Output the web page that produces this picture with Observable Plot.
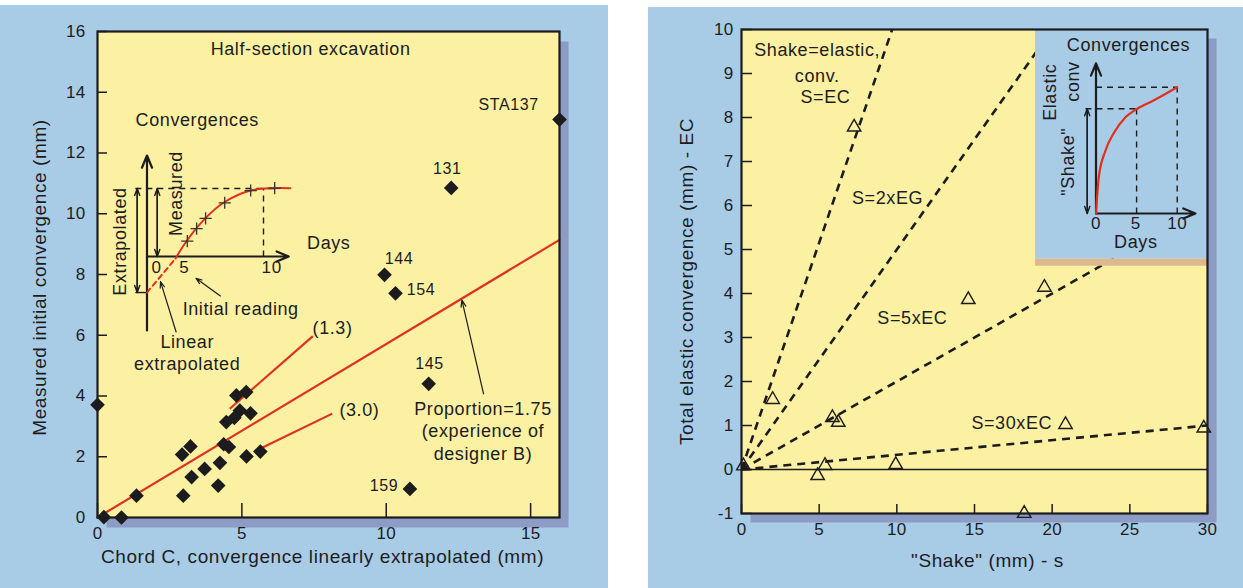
<!DOCTYPE html>
<html><head><meta charset="utf-8">
<script src="https://cdn.jsdelivr.net/npm/d3@7"></script>
<script src="https://cdn.jsdelivr.net/npm/@observablehq/plot@0.6"></script>
<style>
html,body{margin:0;padding:0;background:#fff;}
#wrap{position:relative;width:1243px;height:588px;overflow:hidden;background:#fff;}
.panel{position:absolute;background:#a9cce6;}
#wrap svg{position:absolute;}
#wrap svg text{letter-spacing:0.6px;}
#wrap svg g[aria-label$="tick label"] text{letter-spacing:0.3px;}
</style></head><body><div id="wrap">
<div class="panel" style="left:0;top:5px;width:608px;height:583px"></div>
<div class="panel" style="left:648px;top:7px;width:595px;height:581px"></div>
</div>
<script>
// ---------------- LEFT PANEL DATA ----------------
const leftXTicks = [0, 5, 10, 15];
const leftYTicks = [0, 2, 4, 6, 8, 10, 12, 14, 16];
// chord C (extrapolated) vs measured initial convergence (mm)
const chordC   = [4.81, 5.15, 4.46, 4.74, 4.93, 5.30, 4.37, 4.55, 5.16, 5.64, 3.22, 2.93, 3.26, 3.71, 4.24, 4.18, 2.97, 1.35, 0.22, 0.83, 0.00, 16.0, 12.25, 9.94, 10.32, 11.47, 10.82];
const measured = [4.02, 4.13, 3.14, 3.28, 3.52, 3.43, 2.41, 2.32, 2.01, 2.17, 2.34, 2.07, 1.33, 1.60, 1.80, 1.05, 0.72, 0.72, 0.01, 0.00, 3.71, 13.1, 10.85, 7.99, 7.38, 4.40, 0.94];
const stationNames = ["STA137", "131", "144", "154", "145", "159"];
const stationLabelX = [14.24, 12.11, 10.44, 11.2, 11.5, 9.92];
const stationLabelY = [13.6, 11.49, 8.53, 7.49, 5.07, 1.03];
const proportionX = [0, 16];
const proportionY = [0, 9.14];
const ratioNames = ["(1.3)", "(3.0)"];
const ratioSegX1 = [4.58, 5.70], ratioSegY1 = [3.58, 2.30];
const ratioSegX2 = [7.46, 8.13], ratioSegY2 = [5.97, 3.42];
const ratioLabelX = [8.14, 9.07], ratioLabelY = [6.22, 3.52];
const noteText = ["Half-section excavation", "Proportion=1.75", "(experience of", "designer B)"];
const noteX = [7.38, 13.35, 13.35, 13.35];
const noteY = [15.41, 3.57, 2.83, 2.08];
const pointerFrom = [13.37, 4.07], pointerTo = [12.62, 7.16];

// left inset (schematic, days vs convergence units)
const liAxisX1 = [0, 0], liAxisY1 = [-10.9, 0], liAxisX2 = [0, 12.17], liAxisY2 = [14.85, 0];
const liGuideX1 = [-1, 10], liGuideY1 = [10, 0], liGuideX2 = [10.9, 10], liGuideY2 = [10, 10];
const liDblX = [-0.84, 0.88], liDblTop = [10, 10], liDblBottom = [-5.3, 0];
const liBaseTick = {x1: -1, x2: 0, y: -5.3};
const liExtrapDays = [0, 2.45], liExtrapConv = [-5.3, -0.3];
const liCurveDays = [2.45, 3.43, 5.0, 6.56, 8.88, 10.86, 12.3];
const liCurveConv = [-0.3, 2.35, 5.6, 7.9, 9.7, 10.05, 10.05];
const liReadDays = [3.46, 4.26, 5.03, 6.67, 8.9, 10.96];
const liReadConv = [2.25, 4.1, 5.6, 7.9, 9.7, 10.05];
const liText = ["Convergences", "Days", "0", "5", "10", "Initial reading", "Linear", "extrapolated"];
const liTextX = [4.31, 15.6, 0.82, 3.2, 10.7, 8.04, 3.45, 3.45];
const liTextY = [20.0, 1.9, -1.57, -1.57, -1.57, -7.8, -12.65, -15.9];
const liRotText = ["Measured", "Extrapolated"];
const liRotX = [2.53, -2.32], liRotY = [9.26, 2.2];
const liPointX1 = [6.3, 2.5], liPointY1 = [-5.8, -11.1], liPointX2 = [4.2, 1.16], liPointY2 = [-3.2, -3.7];

// ---------------- RIGHT PANEL DATA ----------------
const rightXTicks = [0, 5, 10, 15, 20, 25, 30];
const rightYTicks = [-1, 0, 1, 2, 3, 4, 5, 6, 7, 8, 9, 10];
const shake = [2.01, 7.25, 5.85, 6.23, 4.90, 5.38, 9.93, 14.6, 19.5, 20.86, 18.2, 29.76, 0.12];
const elasticConv = [1.59, 7.78, 1.18, 1.07, -0.14, 0.09, 0.11, 3.86, 4.14, 1.02, -1.0, 0.94, 0.08];
const refNames = ["S=EC", "S=2xEG", "S=5xEC", "S=30xEC"];
const refEndX = [9.7, 20, 25, 30];
const refEndY = [10, 10, 5, 1];
const rNoteText = ["Shake=elastic,", "conv.", "S=EC", "S=2xEG", "S=5xEC", "S=30xEC"];
const rNoteX = [4.87, 4.87, 5.4, 9.4, 11.0, 17.4];
const rNoteY = [9.53, 8.93, 8.47, 6.17, 3.43, 1.06];
const insetBox = {x1: 18.93, x2: 30, y1: 4.78, y2: 10};
const insetStripe = {x1: 18.93, x2: 30, y1: 4.62, y2: 4.78};

// right inset (schematic)
const riAxisX2 = [0, 12.25], riAxisY2 = [11.88, 0];
const riCurveDays = [0, 0.34, 1.17, 2.16, 3.63, 4.86, 7.08, 10];
const riCurveConv = [0, 2.87, 4.99, 6.33, 7.62, 8.21, 8.95, 10];
const riGuideX1 = [0, -1.3, 5, 10], riGuideY1 = [10, 8.29, 0, 0];
const riGuideX2 = [10, 5, 5, 10], riGuideY2 = [10, 8.29, 8.29, 10];
const riShakeX = -1.08, riShakeTop = 8.29, riShakeBottom = 0;
const riText = ["Convergences", "0", "5", "10", "Days"];
const riTextX = [4.0, 0, 4.9, 10.0, 4.9];
const riTextY = [13.3, -0.8, -0.8, -0.8, -2.3];
const riRotText = ["Elastic", "conv", "\"Shake\""];
const riRotX = [-5.6, -2.8, -3.47], riRotY = [9.6, 10.45, 4.1];

// ---------------- STYLE ----------------
const INK = "#1c1c1e", RED = "#e1301d", YELLOW = "#fcf1a2", SHADOW = "#8d9cc5", BLUE = "#a9cce6", STRIPE = "#dcb88e";
const FONT = "'Liberation Sans', Arial, Helvetica, sans-serif";
const baseStyle = {fontFamily: FONT, fontSize: "16px", color: INK, background: "transparent", overflow: "visible"};

// ---------------- LEFT MAIN ----------------
const leftPts = chordC.map((x, i) => ({x, y: measured[i]}));
const stationLabels = stationNames.map((t, i) => ({t, x: stationLabelX[i], y: stationLabelY[i]}));
const propLine = proportionX.map((x, i) => ({x, y: proportionY[i]}));
const ratioSegs = ratioNames.map((t, i) => ({t, x1: ratioSegX1[i], y1: ratioSegY1[i], x2: ratioSegX2[i], y2: ratioSegY2[i], lx: ratioLabelX[i], ly: ratioLabelY[i]}));
const notes = noteText.map((t, i) => ({t, x: noteX[i], y: noteY[i]}));

const left = Plot.plot({
  width: 608, height: 588,
  marginLeft: 97, marginRight: 49, marginTop: 31, marginBottom: 71,
  x: {domain: [0, 16], axis: null}, y: {domain: [0, 16], axis: null},
  style: baseStyle,
  marks: [
    Plot.frame({fill: SHADOW, dx: 9, dy: 10}),
    Plot.frame({fill: YELLOW}),
    Plot.line(propLine, {x: "x", y: "y", stroke: RED, strokeWidth: 2.2}),
    Plot.link(ratioSegs, {x1: "x1", y1: "y1", x2: "x2", y2: "y2", stroke: RED, strokeWidth: 2.2}),
    Plot.arrow([{x1: pointerFrom[0], y1: pointerFrom[1], x2: pointerTo[0], y2: pointerTo[1]}], {x1: "x1", y1: "y1", x2: "x2", y2: "y2", stroke: INK, strokeWidth: 1.2, headLength: 9, headAngle: 40}),
    Plot.dot(leftPts, {x: "x", y: "y", symbol: "diamond2", r: 6.6, fill: INK}),
    Plot.text(stationLabels, {x: "x", y: "y", text: "t", fontSize: 16, fill: INK}),
    Plot.text(ratioSegs, {x: "lx", y: "ly", text: "t", fontSize: 18, fill: INK}),
    Plot.text(notes, {x: "x", y: "y", text: "t", fontSize: 18, fill: INK}),
    Plot.axisY(leftYTicks, {tickSize: 0, tickPadding: 12, fontSize: 17, label: null, fill: INK}),
    Plot.axisY(leftYTicks, {tickSize: 10, dx: 10, tickFormat: () => "", label: null, stroke: INK, strokeWidth: 1.5}),
    Plot.axisX(leftXTicks, {tickSize: 0, tickPadding: 9, fontSize: 17, label: null, fill: INK}),
    Plot.axisX(leftXTicks, {tickSize: 14, dy: -14, tickFormat: () => "", label: null, stroke: INK, strokeWidth: 1.5}),
    Plot.text(["Chord C, convergence linearly extrapolated (mm)"], {frameAnchor: "bottom", textAnchor: "middle", dy: 45, dx: -6, fontSize: 19, fill: INK}),
    Plot.text(["Measured initial convergence (mm)"], {frameAnchor: "left", textAnchor: "middle", dx: -58, dy: 3, rotate: -90, fontSize: 19, fill: INK}),
    Plot.frame({stroke: INK, strokeWidth: 2.2})
  ]
});
left.style.left = "0px"; left.style.top = "0px";
document.getElementById("wrap").appendChild(left);

// ---------------- LEFT INSET ----------------
const liAxes = liAxisX1.map((x1, i) => ({x1, y1: liAxisY1[i], x2: liAxisX2[i], y2: liAxisY2[i]}));
const liGuides = liGuideX1.map((x1, i) => ({x1, y1: liGuideY1[i], x2: liGuideX2[i], y2: liGuideY2[i]}));
const liDbl = liDblX.map((x, i) => ({x, top: liDblTop[i], bottom: liDblBottom[i]}));
const liExtrap = liExtrapDays.map((d, i) => ({d, c: liExtrapConv[i]}));
const liCurve = liCurveDays.map((d, i) => ({d, c: liCurveConv[i]}));
const liReads = liReadDays.map((d, i) => ({d, c: liReadConv[i]}));
const liTexts = liText.map((t, i) => ({t, x: liTextX[i], y: liTextY[i], small: /^\d+$/.test(t)}));
const liRot = liRotText.map((t, i) => ({t, x: liRotX[i], y: liRotY[i]}));
const liPointers = liPointX1.map((x1, i) => ({x1, y1: liPointY1[i], x2: liPointX2[i], y2: liPointY2[i]}));

const leftInset = Plot.plot({
  width: 270, height: 280, margin: 0,
  x: {domain: [0, 10], range: [46.5, 163], axis: null},
  y: {domain: [0, 10], range: [156, 88], axis: null},
  style: baseStyle,
  marks: [
    Plot.link(liGuides, {x1: "x1", y1: "y1", x2: "x2", y2: "y2", stroke: INK, strokeWidth: 1.4, strokeDasharray: "6,5"}),
    Plot.link([liBaseTick], {x1: "x1", x2: "x2", y1: "y", y2: "y", stroke: INK, strokeWidth: 1.4}),
    Plot.arrow(liAxes, {x1: "x1", y1: "y1", x2: "x2", y2: "y2", stroke: INK, strokeWidth: 2.2, headLength: 9, headAngle: 45}),
    Plot.arrow(liDbl, {x1: "x", y1: "bottom", x2: "x", y2: "top", stroke: INK, strokeWidth: 1.4, headLength: 8, headAngle: 40}),
    Plot.arrow(liDbl, {x1: "x", y1: "top", x2: "x", y2: "bottom", stroke: INK, strokeWidth: 1.4, headLength: 8, headAngle: 40}),
    Plot.line(liExtrap, {x: "d", y: "c", stroke: RED, strokeWidth: 2, strokeDasharray: "5,4"}),
    Plot.line(liCurve, {x: "d", y: "c", stroke: RED, strokeWidth: 2, curve: "catmull-rom"}),
    Plot.dot(liReads, {x: "d", y: "c", symbol: "plus", r: 4, stroke: "#333", strokeWidth: 1.3}),
    Plot.arrow(liPointers, {x1: "x1", y1: "y1", x2: "x2", y2: "y2", stroke: INK, strokeWidth: 1.2, headLength: 8, headAngle: 40}),
    Plot.text(liTexts, {x: "x", y: "y", text: "t", fontSize: d => d.small ? 17 : 18, fill: INK}),
    Plot.text(liRot, {x: "x", y: "y", text: "t", rotate: -90, fontSize: 18, fill: INK})
  ]
});
leftInset.style.left = "100px"; leftInset.style.top = "100px";
document.getElementById("wrap").appendChild(leftInset);

// ---------------- RIGHT MAIN ----------------
const rightPts = shake.map((x, i) => ({x, y: elasticConv[i]}));
const refLines = refNames.map((t, i) => ({t, x1: 0, y1: 0, x2: refEndX[i], y2: refEndY[i]}));
const rNotes = rNoteText.map((t, i) => ({t, x: rNoteX[i], y: rNoteY[i]}));

const right = Plot.plot({
  width: 595, height: 588,
  marginLeft: 93, marginRight: 36, marginTop: 29, marginBottom: 75,
  x: {domain: [0, 30], axis: null}, y: {domain: [-1, 10], axis: null},
  style: baseStyle,
  marks: [
    Plot.frame({fill: SHADOW, dx: 9, dy: 9}),
    Plot.frame({fill: YELLOW}),
    Plot.ruleY([0], {stroke: INK, strokeWidth: 1.3}),
    Plot.link(refLines, {x1: "x1", y1: "y1", x2: "x2", y2: "y2", stroke: INK, strokeWidth: 2.6, strokeDasharray: "8,6", clip: true}),
    Plot.dot(rightPts, {x: "x", y: "y", symbol: "triangle", r: 5, stroke: INK, strokeWidth: 1.4, fill: "none"}),
    Plot.rect([insetBox], {x1: "x1", x2: "x2", y1: "y1", y2: "y2", fill: BLUE}),
    Plot.rect([insetStripe], {x1: "x1", x2: "x2", y1: "y1", y2: "y2", fill: STRIPE}),
    Plot.text(rNotes, {x: "x", y: "y", text: "t", fontSize: 18, fill: INK}),
    Plot.axisY(rightYTicks, {tickSize: 0, tickPadding: 8, fontSize: 17, label: null, fill: INK, tickFormat: d => String(d)}),
    Plot.axisY(rightYTicks, {tickSize: 11, dx: 11, tickFormat: () => "", label: null, stroke: INK, strokeWidth: 1.5}),
    Plot.axisX(rightXTicks, {tickSize: 0, tickPadding: 9, fontSize: 17, label: null, fill: INK}),
    Plot.axisX(rightXTicks, {tickSize: 9, dy: -9, tickFormat: () => "", label: null, stroke: INK, strokeWidth: 1.5}),
    Plot.text(["\"Shake\" (mm) - s"], {frameAnchor: "bottom", textAnchor: "middle", dy: 53, dx: 13, fontSize: 19, fill: INK}),
    Plot.text(["Total elastic convergence (mm) - EC"], {frameAnchor: "left", textAnchor: "middle", dx: -55, dy: 10, rotate: -90, fontSize: 19, fill: INK}),
    Plot.frame({stroke: INK, strokeWidth: 2.2})
  ]
});
right.style.left = "648px"; right.style.top = "0px";
document.getElementById("wrap").appendChild(right);

// ---------------- RIGHT INSET ----------------
const riAxes = riAxisX2.map((x2, i) => ({x1: 0, y1: 0, x2, y2: riAxisY2[i]}));
const riCurve = riCurveDays.map((d, i) => ({d, c: riCurveConv[i]}));
const riGuides = riGuideX1.map((x1, i) => ({x1, y1: riGuideY1[i], x2: riGuideX2[i], y2: riGuideY2[i]}));
const riShake = [{x: riShakeX, top: riShakeTop, bottom: riShakeBottom}];
const riTexts = riText.map((t, i) => ({t, x: riTextX[i], y: riTextY[i], small: /^\d+$/.test(t)}));
const riRot = riRotText.map((t, i) => ({t, x: riRotX[i], y: riRotY[i]}));

const rightInset = Plot.plot({
  width: 180, height: 242, margin: 0,
  x: {domain: [0, 10], range: [65.5, 146.7], axis: null},
  y: {domain: [0, 10], range: [185, 58.7], axis: null},
  style: baseStyle,
  marks: [
    Plot.link(riGuides, {x1: "x1", y1: "y1", x2: "x2", y2: "y2", stroke: INK, strokeWidth: 1.4, strokeDasharray: "6,5"}),
    Plot.arrow(riAxes, {x1: "x1", y1: "y1", x2: "x2", y2: "y2", stroke: INK, strokeWidth: 2.2, headLength: 9, headAngle: 45}),
    Plot.arrow(riShake, {x1: "x", y1: "bottom", x2: "x", y2: "top", stroke: INK, strokeWidth: 1.4, headLength: 8, headAngle: 40}),
    Plot.arrow(riShake, {x1: "x", y1: "top", x2: "x", y2: "bottom", stroke: INK, strokeWidth: 1.4, headLength: 8, headAngle: 40}),
    Plot.line(riCurve, {x: "d", y: "c", stroke: RED, strokeWidth: 2.2, curve: "monotone-x"}),
    Plot.text(riTexts, {x: "x", y: "y", text: "t", fontSize: d => d.small ? 17 : 18, fill: INK}),
    Plot.text(riRot, {x: "x", y: "y", text: "t", rotate: -90, fontSize: 18, fill: INK})
  ]
});
rightInset.style.left = "1030px"; rightInset.style.top = "28px";
document.getElementById("wrap").appendChild(rightInset);
</script></body></html>
